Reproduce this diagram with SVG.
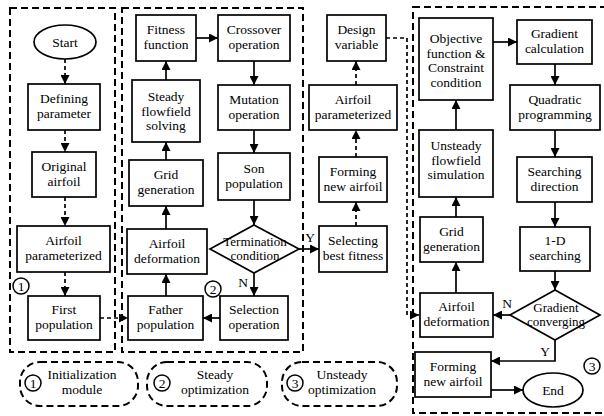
<svg xmlns="http://www.w3.org/2000/svg" width="604" height="416" viewBox="0 0 604 416">
<style>
text{font-family:"Times New Roman","Liberation Serif","DejaVu Serif",serif;font-size:13.5px;fill:#000;text-anchor:middle}
.box{fill:#fff;stroke:#000;stroke-width:1.7}
.mod{fill:none;stroke:#000;stroke-width:2;stroke-dasharray:7 4}
.leg{fill:none;stroke:#000;stroke-width:2;stroke-dasharray:7 4}
.c{fill:none;stroke:#000;stroke-width:1.7}
.d{fill:none;stroke:#000;stroke-width:1.7;stroke-dasharray:4 3}
.num{fill:#fff;stroke:#000;stroke-width:1.5}
.sm{font-size:13px}
</style>
<defs>
<marker id="ah" viewBox="0 0 10 10" refX="10" refY="5" markerWidth="10" markerHeight="9" markerUnits="userSpaceOnUse" orient="auto">
<path d="M0,0 L10,5 L0,10 z" fill="#000"/>
</marker>
</defs>
<g id="modules">
<rect class="mod" x="10" y="8" width="105" height="344"/>
<rect class="mod" x="122" y="8" width="181" height="344"/>
<rect class="mod" x="413" y="7" width="194" height="406"/>
</g>
<g id="connectors">
<line class="d" x1="65" y1="59" x2="65" y2="84" marker-end="url(#ah)"/>
<line class="d" x1="65" y1="130" x2="65" y2="152" marker-end="url(#ah)"/>
<line class="d" x1="65" y1="197" x2="65" y2="226" marker-end="url(#ah)"/>
<line class="d" x1="65" y1="272" x2="65" y2="296" marker-end="url(#ah)"/>
<line class="d" x1="100" y1="318" x2="128" y2="318" marker-end="url(#ah)"/>
<line class="c" x1="166" y1="296" x2="166" y2="274" marker-end="url(#ah)"/>
<line class="c" x1="166" y1="229" x2="166" y2="206" marker-end="url(#ah)"/>
<line class="c" x1="166" y1="160" x2="166" y2="142" marker-end="url(#ah)"/>
<line class="c" x1="166" y1="80" x2="166" y2="61" marker-end="url(#ah)"/>
<line class="c" x1="196" y1="38" x2="218" y2="38" marker-end="url(#ah)"/>
<line class="c" x1="254" y1="61" x2="254" y2="85" marker-end="url(#ah)"/>
<line class="c" x1="254" y1="130" x2="254" y2="153" marker-end="url(#ah)"/>
<line class="c" x1="254" y1="200" x2="254" y2="225" marker-end="url(#ah)"/>
<line class="c" x1="254" y1="273" x2="254" y2="296" marker-end="url(#ah)"/>
<line class="c" x1="220" y1="318" x2="203" y2="318" marker-end="url(#ah)"/>
<line class="c" x1="299" y1="249" x2="319" y2="249" marker-end="url(#ah)"/>
<line class="d" x1="356" y1="226" x2="356" y2="202" marker-end="url(#ah)"/>
<line class="d" x1="356" y1="157" x2="356" y2="130" marker-end="url(#ah)"/>
<line class="d" x1="356" y1="85" x2="356" y2="61" marker-end="url(#ah)"/>
<polyline class="d" points="386,38 407,38 407,315 419,315" marker-end="url(#ah)"/>
<line class="c" x1="456" y1="293" x2="456" y2="262" marker-end="url(#ah)"/>
<line class="c" x1="456" y1="217" x2="456" y2="197" marker-end="url(#ah)"/>
<line class="c" x1="456" y1="130" x2="456" y2="100" marker-end="url(#ah)"/>
<line class="c" x1="493" y1="42" x2="517" y2="42" marker-end="url(#ah)"/>
<line class="c" x1="555" y1="64" x2="555" y2="85" marker-end="url(#ah)"/>
<line class="c" x1="555" y1="130" x2="555" y2="157" marker-end="url(#ah)"/>
<line class="c" x1="555" y1="202" x2="555" y2="227" marker-end="url(#ah)"/>
<line class="c" x1="555" y1="271" x2="555" y2="290" marker-end="url(#ah)"/>
<line class="c" x1="510" y1="315" x2="493" y2="315" marker-end="url(#ah)"/>
<polyline class="c" points="555,340 555,361 491,361" marker-end="url(#ah)"/>
<line class="c" x1="491" y1="390" x2="523" y2="390" marker-end="url(#ah)"/>
<text x="243" y="287">N</text>
<text x="310" y="242">Y</text>
<text x="507" y="308">N</text>
<text x="545" y="356">Y</text>
</g>
<g id="start"><ellipse class="box" cx="65" cy="42" rx="31" ry="17"/><text x="65" y="46.5">Start</text></g>
<g id="defining"><rect class="box" x="28" y="84" width="72" height="46"/><text x="64" y="103">Defining</text><text x="64" y="118">parameter</text></g>
<g id="original"><rect class="box" x="32" y="152" width="64" height="45"/><text x="64" y="170.5">Original</text><text x="64" y="185.5">airfoil</text></g>
<g id="param1"><rect class="box" x="17" y="226" width="93" height="46"/><text x="63.5" y="245">Airfoil</text><text x="63.5" y="260">parameterized</text></g>
<g id="firstpop"><rect class="box" x="28" y="296" width="72" height="44"/><text x="64" y="314">First</text><text x="64" y="329">population</text></g>
<g id="c1"><circle class="num" cx="21" cy="286" r="8"/><text x="21" y="290.5">1</text></g>
<g id="fitness"><rect class="box" x="136" y="15" width="60" height="46"/><text x="166" y="34">Fitness</text><text x="166" y="49">function</text></g>
<g id="steady"><rect class="box" x="132" y="80" width="68" height="62"/><text x="166" y="101">Steady</text><text x="166" y="115.5">flowfield</text><text x="166" y="130">solving</text></g>
<g id="grid1"><rect class="box" x="129" y="160" width="74" height="46"/><text x="166" y="179">Grid</text><text x="166" y="194">generation</text></g>
<g id="deform1"><rect class="box" x="127" y="229" width="80" height="45"/><text x="167" y="247.5">Airfoil</text><text x="167" y="262.5">deformation</text></g>
<g id="father"><rect class="box" x="128" y="296" width="75" height="44"/><text x="165.5" y="314">Father</text><text x="165.5" y="329">population</text></g>
<g id="crossover"><rect class="box" x="218" y="15" width="72" height="46"/><text x="254" y="34">Crossover</text><text x="254" y="49">operation</text></g>
<g id="mutation"><rect class="box" x="218" y="85" width="72" height="45"/><text x="254" y="103.5">Mutation</text><text x="254" y="118.5">operation</text></g>
<g id="son"><rect class="box" x="218" y="153" width="72" height="47"/><text x="254" y="172.5">Son</text><text x="254" y="187.5">population</text></g>
<g id="termination"><polygon class="box" points="254,225 299,249 254,273 210,249"/><text class="sm" x="255" y="246">Termination</text><text class="sm" x="255" y="259.5">condition</text></g>
<g id="selection"><rect class="box" x="220" y="296" width="68" height="44"/><text x="254" y="314">Selection</text><text x="254" y="329">operation</text></g>
<g id="c2"><circle class="num" cx="213" cy="289" r="8"/><text x="213" y="293.5">2</text></g>
<g id="design"><rect class="box" x="327" y="15" width="59" height="46"/><text x="356.5" y="34">Design</text><text x="356.5" y="49">variable</text></g>
<g id="param2"><rect class="box" x="309" y="85" width="88" height="45"/><text x="353" y="103.5">Airfoil</text><text x="353" y="118.5">parameterized</text></g>
<g id="forming1"><rect class="box" x="319" y="157" width="68" height="45"/><text x="353" y="175.5">Forming</text><text x="353" y="190.5">new airfoil</text></g>
<g id="selecting"><rect class="box" x="319" y="226" width="68" height="46"/><text x="353" y="245">Selecting</text><text x="353" y="260">best fitness</text></g>
<g id="objective"><rect class="box" x="419" y="18" width="74" height="82"/><text x="456" y="43">Objective</text><text x="456" y="57.5">function &amp;</text><text x="456" y="72">Constraint</text><text x="456" y="86.5">condition</text></g>
<g id="unsteady"><rect class="box" x="419" y="130" width="74" height="67"/><text x="456" y="150">Unsteady</text><text x="456" y="164.5">flowfield</text><text x="456" y="179">simulation</text></g>
<g id="grid2"><rect class="box" x="420" y="217" width="63" height="45"/><text x="451.5" y="235.5">Grid</text><text x="451.5" y="250.5">generation</text></g>
<g id="deform2"><rect class="box" x="420" y="293" width="73" height="44"/><text x="456.5" y="311">Airfoil</text><text x="456.5" y="326">deformation</text></g>
<g id="forming2"><rect class="box" x="415" y="352" width="76" height="45"/><text x="453" y="370.5">Forming</text><text x="453" y="385.5">new airfoil</text></g>
<g id="end"><ellipse class="box" cx="553" cy="390" rx="30" ry="17"/><text x="553" y="394.5">End</text></g>
<g id="gradcalc"><rect class="box" x="517" y="20" width="75" height="44"/><text x="554.5" y="38">Gradient</text><text x="554.5" y="53">calculation</text></g>
<g id="quadratic"><rect class="box" x="510" y="85" width="90" height="45"/><text x="555" y="103.5">Quadratic</text><text x="555" y="118.5">programming</text></g>
<g id="searching"><rect class="box" x="517" y="157" width="75" height="45"/><text x="554.5" y="175.5">Searching</text><text x="554.5" y="190.5">direction</text></g>
<g id="onedim"><rect class="box" x="520" y="227" width="70" height="44"/><text x="555" y="245">1-D</text><text x="555" y="260">searching</text></g>
<g id="converging"><polygon class="box" points="555,290 600,315 555,340 510,315"/><text class="sm" x="556" y="312">Gradient</text><text class="sm" x="556" y="325.5">converging</text></g>
<g id="c3"><circle class="num" cx="592" cy="366" r="8"/><text x="592" y="370.5">3</text></g>
<g id="legend1"><rect class="leg" x="20" y="362" width="118" height="44" rx="20"/><circle class="num" cx="33" cy="383" r="8"/><text x="33" y="387.5">1</text><text x="82" y="379">Initialization</text><text x="82" y="394">module</text></g>
<g id="legend2"><rect class="leg" x="147" y="362" width="120" height="44" rx="20"/><circle class="num" cx="162" cy="383" r="8"/><text x="162" y="387.5">2</text><text x="215" y="379">Steady</text><text x="215" y="394">optimization</text></g>
<g id="legend3"><rect class="leg" x="282" y="362" width="115" height="44" rx="20"/><circle class="num" cx="295" cy="383" r="8"/><text x="295" y="387.5">3</text><text x="342" y="379">Unsteady</text><text x="342" y="394">optimization</text></g>
</svg>
